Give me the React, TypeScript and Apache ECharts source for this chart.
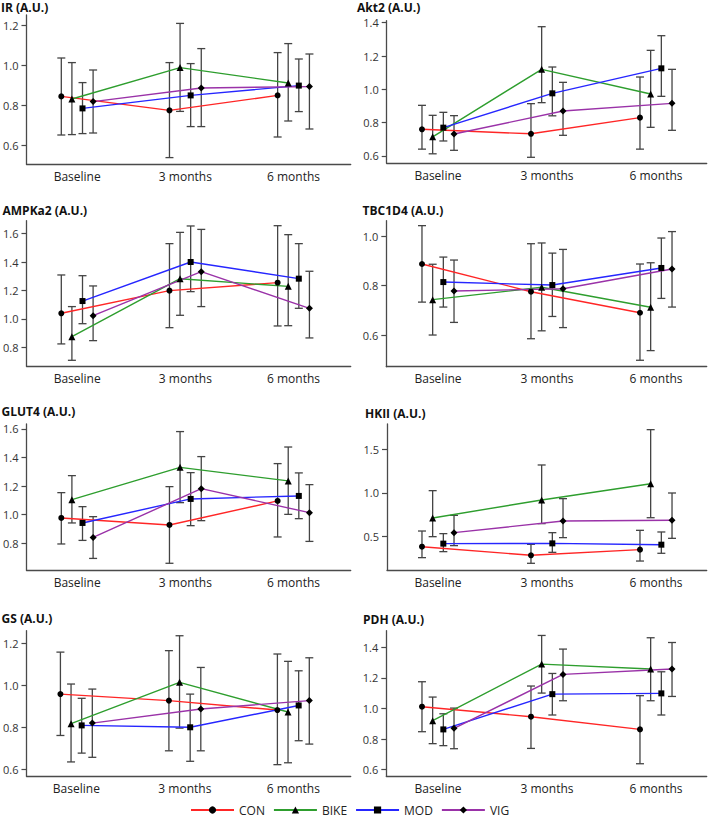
import React, { useEffect, useRef } from 'react';
import * as echarts from 'echarts';

const categories = ['Baseline', '3 months', '6 months'];
const groups = ['CON', 'BIKE', 'MOD', 'VIG'];
const groupColors = ['#ff2626', '#2e9e2e', '#2626ff', '#9a32a8'];
const groupSymbols = ['circle', 'triangle', 'rect', 'diamond'];
const panelTitles = ['IR (A.U.)', 'Akt2 (A.U.)', 'AMPKa2 (A.U.)', 'TBC1D4 (A.U.)', 'GLUT4 (A.U.)', 'HKII (A.U.)', 'GS (A.U.)', 'PDH (A.U.)'];

// rows: CON, BIKE, MOD, VIG ; columns: Baseline, 3 months, 6 months
const irMean = [[0.843, 0.773, 0.848], [0.83, 0.987, 0.91], [0.783, 0.848, 0.897], [0.817, 0.885, 0.892]];
const irLow = [[0.65, 0.537, 0.64], [0.652, 0.768, 0.72], [0.657, 0.692, 0.767], [0.66, 0.692, 0.68]];
const irHigh = [[1.035, 1.012, 1.062], [1.012, 1.208, 1.107], [0.912, 1.007, 1.03], [0.975, 1.082, 1.055]];
const irTicks = [0.6, 0.8, 1.0, 1.2];
const irRange = [0.505, 1.25];

const akt2Mean = [[0.76, 0.733, 0.83], [0.715, 1.12, 0.972], [0.77, 0.976, 1.126], [0.732, 0.87, 0.916]];
const akt2Low = [[0.641, 0.592, 0.641], [0.613, 0.92, 0.772], [0.69, 0.841, 0.958], [0.634, 0.724, 0.754]];
const akt2High = [[0.904, 0.914, 1.074], [0.844, 1.376, 1.234], [0.862, 1.134, 1.322], [0.842, 1.042, 1.12]];
const akt2Ticks = [0.6, 0.8, 1.0, 1.2, 1.4];
const akt2Range = [0.556, 1.412];

const ampkMean = [[1.04, 1.199, 1.255], [0.876, 1.283, 1.229], [1.126, 1.4, 1.283], [1.023, 1.332, 1.075]];
const ampkLow = [[0.825, 0.939, 0.951], [0.71, 1.026, 0.953], [0.967, 1.192, 1.075], [0.848, 1.087, 0.867]];
const ampkHigh = [[1.309, 1.529, 1.655], [1.087, 1.608, 1.592], [1.304, 1.653, 1.529], [1.232, 1.629, 1.335]];
const ampkTicks = [0.8, 1.0, 1.2, 1.4, 1.6];
const ampkRange = [0.67, 1.69];

const tbcMean = [[0.887, 0.775, 0.69], [0.743, 0.793, 0.712], [0.814, 0.802, 0.871], [0.778, 0.787, 0.867]];
const tbcLow = [[0.733, 0.585, 0.498], [0.6, 0.617, 0.537], [0.713, 0.675, 0.748], [0.651, 0.63, 0.713]];
const tbcHigh = [[1.042, 0.969, 0.887], [0.886, 0.972, 0.892], [0.915, 0.931, 0.992], [0.903, 0.946, 1.018]];
const tbcTicks = [0.6, 0.8, 1.0];
const tbcRange = [0.472, 1.062];

const glut4Mean = [[0.977, 0.928, 1.096], [1.105, 1.331, 1.236], [0.942, 1.11, 1.131], [0.841, 1.182, 1.014]];
const glut4Low = [[0.795, 0.66, 0.844], [0.942, 1.084, 1.002], [0.82, 0.923, 0.972], [0.694, 0.958, 0.813]];
const glut4High = [[1.154, 1.196, 1.357], [1.273, 1.581, 1.473], [1.056, 1.294, 1.292], [0.986, 1.406, 1.21]];
const glut4Ticks = [0.8, 1.0, 1.2, 1.4, 1.6];
const glut4Range = [0.613, 1.634];

const hkiiMean = [[0.383, 0.284, 0.349], [0.713, 0.92, 1.107], [0.418, 0.421, 0.406], [0.544, 0.678, 0.686]];
const hkiiLow = [[0.257, 0.192, 0.218], [0.498, 0.648, 0.716], [0.326, 0.318, 0.307], [0.395, 0.487, 0.479]];
const hkiiHigh = [[0.563, 0.41, 0.571], [1.027, 1.322, 1.728], [0.533, 0.544, 0.552], [0.743, 0.935, 1.0]];
const hkiiTicks = [0.5, 1.0, 1.5];
const hkiiRange = [0.115, 1.793];

const gsMean = [[0.96, 0.929, 0.884], [0.819, 1.016, 0.875], [0.811, 0.802, 0.906], [0.822, 0.889, 0.929]];
const gsLow = [[0.763, 0.69, 0.624], [0.637, 0.798, 0.633], [0.679, 0.64, 0.738], [0.659, 0.69, 0.722]];
const gsHigh = [[1.16, 1.167, 1.151], [1.008, 1.238, 1.116], [0.94, 0.96, 1.071], [0.984, 1.087, 1.133]];
const gsTicks = [0.6, 0.8, 1.0, 1.2];
const gsRange = [0.57, 1.262];

const pdhMean = [[1.011, 0.946, 0.863], [0.92, 1.289, 1.257], [0.863, 1.093, 1.098], [0.87, 1.222, 1.257]];
const pdhLow = [[0.848, 0.739, 0.639], [0.77, 1.1, 1.05], [0.757, 0.957, 0.957], [0.737, 1.05, 1.078]];
const pdhHigh = [[1.174, 1.146, 1.083], [1.074, 1.476, 1.461], [0.965, 1.228, 1.239], [1.002, 1.387, 1.43]];
const pdhTicks = [0.6, 0.8, 1.0, 1.2, 1.4];
const pdhRange = [0.559, 1.507];

const panelData = [
  [irMean, irLow, irHigh, irTicks, irRange],
  [akt2Mean, akt2Low, akt2High, akt2Ticks, akt2Range],
  [ampkMean, ampkLow, ampkHigh, ampkTicks, ampkRange],
  [tbcMean, tbcLow, tbcHigh, tbcTicks, tbcRange],
  [glut4Mean, glut4Low, glut4High, glut4Ticks, glut4Range],
  [hkiiMean, hkiiLow, hkiiHigh, hkiiTicks, hkiiRange],
  [gsMean, gsLow, gsHigh, gsTicks, gsRange],
  [pdhMean, pdhLow, pdhHigh, pdhTicks, pdhRange],
];

// layout (px): grid left, top, right, bottom ; title x, y
const gridBoxes = [
  [23.5, 15, 350.7, 164],
  [386.7, 20.7, 706.7, 163.3],
  [23.5, 220.7, 350.7, 366],
  [386.3, 220.7, 706.7, 366.7],
  [23.5, 424, 350.7, 570],
  [387, 424, 706.7, 570],
  [24.5, 630.7, 350.7, 776],
  [386.3, 630.7, 706.7, 776],
];
const titlePos = [
  [1, 7.5], [357, 7.5], [2.5, 210], [362.5, 210], [1.5, 411.7], [365, 413], [1.5, 618.3], [363, 619],
];
// category centre positions (px) per column
const colFirstCentre = [74.7, 438];
const colLastCentre = [293, 656];
const dodge = [-0.147, -0.049, 0.049, 0.147];

const FONT = '"Open Sans", "Noto Sans", sans-serif';
const AXIS_COLOR = '#4a4a4a';

export default function App() {
  const ref = useRef<HTMLDivElement>(null);
  useEffect(() => {
    if (!ref.current) return;
    const chart = echarts.init(ref.current, undefined, { renderer: 'svg' });
    const grid: any[] = [];
    const xAxis: any[] = [];
    const yAxis: any[] = [];
    const series: any[] = [];
    const graphic: any[] = [];

    panelData.forEach((pd, p) => {
      const [mean, low, high, ticks, range] = pd as any;
      const [L, T, R, B] = gridBoxes[p];
      const col = p % 2;
      const unit = (colLastCentre[col] - colFirstCentre[col]) / 2;
      const xmin = 1 - (colFirstCentre[col] - L) / unit;
      const xmax = 3 + (R - colLastCentre[col]) / unit;
      grid.push({ left: L, top: T, width: R - L, height: B - T });
      xAxis.push({
        type: 'value', gridIndex: p, min: xmin, max: xmax,
        axisLine: { show: true, onZero: false, lineStyle: { color: AXIS_COLOR, width: 1.3 } },
        axisTick: { show: false },
        splitLine: { show: false },
        axisLabel: {
          customValues: [1, 2, 3],
          formatter: (v: number) => categories[Math.round(v) - 1] ?? '',
          fontSize: 12, color: '#222', fontFamily: FONT, margin: 6,
        },
      });
      yAxis.push({
        type: 'value', gridIndex: p, min: range[0], max: range[1],
        axisLine: { show: true, onZero: false, lineStyle: { color: AXIS_COLOR, width: 1.3 } },
        axisTick: { show: true, length: 5, customValues: ticks, lineStyle: { color: AXIS_COLOR, width: 1.2 } },
        splitLine: { show: false },
        axisLabel: {
          customValues: ticks,
          formatter: (v: number) => v.toFixed(1),
          fontSize: 11, color: '#333', fontFamily: FONT, margin: 8,
        },
      });
      const errData: any[] = [];
      groups.forEach((g, gi) => {
        mean[gi].forEach((_: number, i: number) => {
          errData.push([i + 1 + dodge[gi], low[gi][i], high[gi][i]]);
        });
      });
      series.push({
        type: 'custom', name: 'err' + p, xAxisIndex: p, yAxisIndex: p, z: 2,
        encode: { x: 0, y: [1, 2] },
        data: errData,
        renderItem: (params: any, api: any) => {
          const x = api.value(0);
          const a = api.coord([x, api.value(1)]);
          const b = api.coord([x, api.value(2)]);
          const hw = 4;
          const style = { stroke: '#444', lineWidth: 1.3 };
          return {
            type: 'group',
            children: [
              { type: 'line', shape: { x1: a[0], y1: a[1], x2: b[0], y2: b[1] }, style },
              { type: 'line', shape: { x1: a[0] - hw, y1: a[1], x2: a[0] + hw, y2: a[1] }, style },
              { type: 'line', shape: { x1: b[0] - hw, y1: b[1], x2: b[0] + hw, y2: b[1] }, style },
            ],
          };
        },
      });
      graphic.push({
        type: 'text', x: titlePos[p][0], y: titlePos[p][1],
        style: { text: panelTitles[p], fill: '#111', font: `bold 12px ${FONT}`, verticalAlign: 'middle' },
      });
    });

    // line series first so that legend icons come from them
    const lineSeries: any[] = [];
    panelData.forEach((pd, p) => {
      const mean = pd[0] as number[][];
      groups.forEach((g, gi) => {
        lineSeries.push({
          type: 'line', name: g, xAxisIndex: p, yAxisIndex: p, z: 3,
          data: mean[gi].map((v, i) => [i + 1 + dodge[gi], v]),
          symbol: groupSymbols[gi],
          symbolSize: gi === 3 ? 7 : gi === 1 ? 7 : 6,
          itemStyle: { color: '#000' },
          lineStyle: { color: groupColors[gi], width: 1.4 },
          emphasis: { disabled: true },
        });
      });
    });

    chart.setOption({
      animation: false,
      backgroundColor: '#fff',
      grid, xAxis, yAxis,
      series: [...lineSeries, ...series],
      graphic,
      legend: {
        data: groups, left: 190, top: 804, padding: 0,
        itemWidth: 43, itemHeight: 9, itemGap: 8,
        textStyle: { fontSize: 12, color: '#222', fontFamily: FONT },
      },
    });
    return () => chart.dispose();
  }, []);
  return <div ref={ref} style={{ position: 'fixed', left: 0, top: 0, width: 709, height: 818, background: '#fff' }} />;
}
